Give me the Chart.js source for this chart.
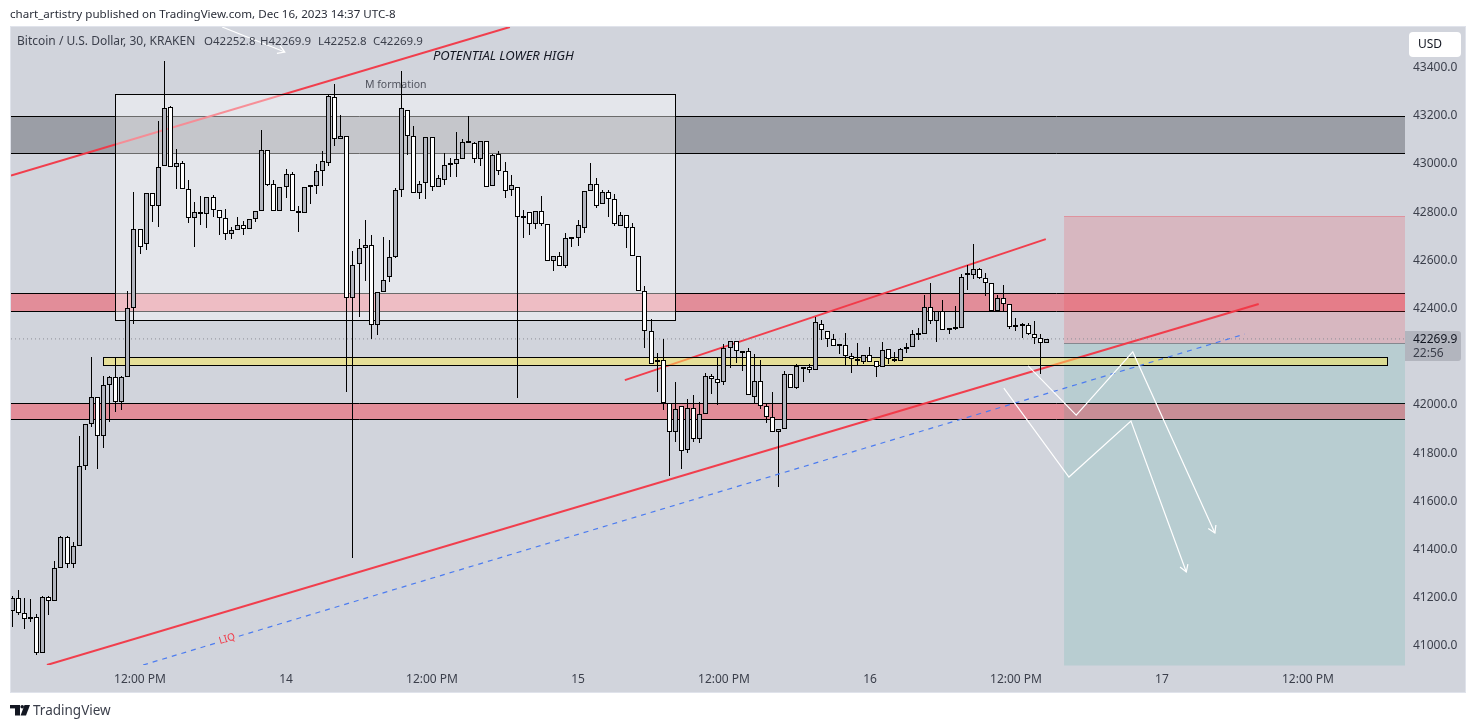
<!DOCTYPE html>
<html>
<head>
<meta charset="utf-8">
<style>html,body{margin:0;padding:0;background:#fff}canvas{display:block}</style>
<script src="https://cdn.jsdelivr.net/npm/chart.js@4"></script>
</head>
<body>
<canvas id="c" width="1475" height="728"></canvas>
<script>
const open=[
41140,41194,41132,41115,41115,40966,41198,41181,41318,41447,
41335,41410,41741,41916,42028,41866,42077,42111,42010,42111,
42397,42725,42662,42874,42820,42986,43231,42982,42998,42891,
42770,42795,42787,42857,42803,42770,42704,42720,42741,42725,
42766,42799,43052,42911,42799,42899,42953,42799,42791,42899,
42903,42965,42998,43272,43098,43110,42438,42579,42646,42658,
42326,42463,42525,42608,42886,43218,43110,42874,42915,43106,
42899,42928,42991,42994,43015,43083,43081,43015,43090,42903,
43036,42965,42886,42899,42774,42795,42745,42799,42745,42592,
42613,42571,42684,42687,42729,42882,42911,42828,42878,42849,
42737,42783,42733,42613,42467,42301,42181,42181,42003,41882,
41990,41808,41982,41853,41957,42115,42102,42090,42231,42260,
42218,42218,42028,42094,41990,41945,41882,41895,42123,42065,
42152,42152,42140,42330,42301,42268,42243,42243,42198,42185,
42173,42202,42177,42152,42227,42185,42177,42227,42235,42286,
42289,42401,42343,42384,42310,42310,42314,42535,42534,42559,
42521,42501,42384,42438,42413,42326,42326,42326,42289,42272,42252.8];
const close=[
41194,41132,41107,41107,40966,41198,41181,41318,41447,41335,
41410,41741,41916,42028,41866,42077,42111,42010,42111,42397,
42725,42650,42874,42820,42982,43227,42982,42998,42891,42770,
42795,42787,42857,42803,42770,42704,42720,42741,42725,42766,
42799,43052,42907,42799,42899,42953,42799,42791,42899,42903,
42965,43007,43276,43098,43110,42438,42575,42646,42658,42326,
42463,42513,42608,42886,43227,43110,42874,42911,43106,42899,
42936,42990,42994,43015,43085,43085,43015,43090,42899,43032,
42965,42882,42907,42774,42771,42745,42799,42745,42592,42613,
42571,42687,42687,42741,42882,42911,42820,42878,42849,42745,
42783,42729,42613,42467,42301,42165,42173,42003,41882,41978,
41804,41982,41853,41957,42115,42102,42086,42231,42260,42218,
42210,42036,42094,41990,41945,41882,41895,42123,42065,42157,
42144,42140,42339,42306,42268,42239,42241,42198,42185,42177,
42202,42173,42152,42223,42185,42177,42227,42235,42289,42289,
42401,42343,42384,42306,42307,42314,42525,42538,42559,42521,
42501,42384,42438,42413,42318,42318,42323,42289,42272,42252,42269.9];
const high=[
41203,41228,41194,41190,41127,41202,41202,41349,41452,41452,
41427,41867,41916,42195,42028,42116,42116,42196,42116,42469,
42878,42725,42874,42874,43174,43423,43235,43058,43007,42928,
42837,42862,42857,42866,42803,42808,42733,42774,42758,42766,
42799,43136,43052,42928,42899,42973,42961,42820,42899,42903,
42994,43049,43285,43326,43198,43110,42635,42683,42763,42701,
42463,42693,42679,42895,43381,43218,43152,42924,43106,43106,
42949,43040,43019,43127,43098,43193,43085,43090,43090,43036,
43048,43003,42949,42899,42803,42795,42799,42862,42745,42613,
42629,42708,42687,42762,42882,42998,42936,42886,42886,42870,
42795,42783,42749,42613,42488,42351,42210,42268,42003,42090,
41990,42019,42036,42007,42127,42123,42189,42247,42260,42260,
42218,42231,42206,42181,42003,42048,41895,42135,42123,42165,
42152,42165,42360,42347,42301,42289,42243,42293,42210,42252,
42202,42235,42177,42256,42227,42214,42231,42252,42306,42314,
42451,42501,42384,42430,42310,42405,42538,42575,42662,42563,
42542,42501,42451,42492,42413,42355,42335,42335,42343,42289,42269.9];
const low=[
41076,41124,41067,41097,40957,40966,41124,41181,41318,41321,
41321,41410,41727,41906,41730,41819,41926,41968,41976,42111,
42333,42621,42637,42756,42735,42986,42982,42893,42891,42752,
42652,42741,42731,42777,42700,42679,42683,42720,42702,42725,
42756,42799,42903,42799,42799,42853,42799,42715,42791,42831,
42872,42906,42986,43069,43098,42051,41362,42362,42511,42271,
42287,42463,42505,42604,42857,43034,42874,42849,42849,42882,
42899,42907,42940,42940,43015,43083,42998,42986,42899,42903,
42949,42853,42862,42025,42687,42702,42725,42737,42592,42550,
42571,42563,42652,42654,42708,42882,42812,42828,42777,42737,
42737,42646,42613,42467,42231,42165,42048,41974,41700,41841,
41729,41795,41841,41837,41957,42041,41997,42080,42148,42169,
42135,42036,42003,41978,41920,41882,41654,41895,42065,42061,
42092,42127,42140,42265,42235,42239,42206,42160,42130,42156,
42166,42173,42113,42152,42167,42173,42177,42210,42235,42264,
42289,42330,42256,42306,42289,42306,42314,42471,42517,42517,
42447,42384,42384,42384,42310,42301,42272,42285,42247,42123,42252.8];

const xTickValues=[21,45,69,93,117,141,165,189,213];
const xTickLabels=['12:00 PM','14','12:00 PM','15','12:00 PM','16','12:00 PM','17','12:00 PM'];
const yTickStep=200;
const xRange=[-0.21,228.95];
const yRange=[40917,43564];
const lastPrice=42269.9;

const grayBand=[43195,43041];
const redBandUpper=[42460,42386];
const redBandLower=[42004,41938];
const yellowBand=[42195,42160];
const yellowBandX=[14.9,226];
const mBoxX=[16.9,109];
const mBoxY=[43286,42350];
const positionX=[172.9,228.95];
const stopZone=[42780,42252.8];
const targetZone=[42252.8,40917];

const upperX=[-0.2,81.8], upperY=[42948,43564];
const channelX=[100.7,169.9], channelY=[42099,42684];
const supportX=[5.7,204.9], supportY=[40917,42415];
const liqX=[21.5,202.6], liqY=[40917,42290];
const arrowAX=[163,173.7,183.9,193], arrowAY=[42066,41697,41929,41303];
const arrowBX=[167,174.9,184.2,197.7], arrowBY=[42158,41954,42216,41465];
const arrowCX=[34.5,44.8], arrowCY=[43564,43460];

const zip=(xs,ys)=>xs.map((x,i)=>({x,y:ys[i]}));
const UI='"Noto Sans", sans-serif';
const BG='#d1d4dc';

function lineSet(xs,ys,color,width,order,dash){
  return {type:'line',data:zip(xs,ys),borderColor:color,borderWidth:width,pointRadius:0,tension:0,
          borderDash:dash||[],order:order,fill:false};
}
const idx=open.map((_,i)=>i);
const wickSet={type:'bar',label:'wick',data:idx.map(i=>({x:i,y:[low[i],high[i]]})),backgroundColor:'#000',
  borderWidth:0,inflateAmount:0,barThickness:1,grouped:false,order:4};
const bodySet={type:'bar',label:'body',data:idx.map(i=>({x:i,y:[Math.min(open[i],close[i]),Math.max(open[i],close[i])]})),
  backgroundColor:idx.map(i=>close[i]>=open[i]?'#b2b5be':'#ffffff'),borderColor:'#000',borderWidth:1,borderSkipped:false,
  inflateAmount:0,barThickness:5,minBarLength:2,grouped:false,order:3};

function hBand(ctx,x,y,x0,x1,p0,p1,fill,stroke){
  const l=x.getPixelForValue(x0),r=x.getPixelForValue(x1),t=Math.round(y.getPixelForValue(p0))+.5,b=Math.round(y.getPixelForValue(p1))+.5;
  ctx.fillStyle=fill;ctx.fillRect(l,t,r-l,b-t);
  if(stroke){ctx.strokeStyle=stroke;ctx.lineWidth=1;ctx.beginPath();ctx.moveTo(l,t);ctx.lineTo(r,t);ctx.moveTo(l,b);ctx.lineTo(r,b);ctx.stroke();}
}
function txt(ctx,s,x,y,font,color,align){ctx.font=font;ctx.fillStyle=color;ctx.textAlign=align||'left';ctx.textBaseline='middle';ctx.fillText(s,x,y+1);}
function head(ctx,xs,ys,chart){
  const X=chart.scales.x,Y=chart.scales.y,n=xs.length;
  const ax=X.getPixelForValue(xs[n-2]),ay=Y.getPixelForValue(ys[n-2]),bx=X.getPixelForValue(xs[n-1]),by=Y.getPixelForValue(ys[n-1]);
  const a=Math.atan2(by-ay,bx-ax),L=8;
  ctx.strokeStyle='#fff';ctx.lineWidth=1.2;ctx.beginPath();
  ctx.moveTo(bx-L*Math.cos(a-.55),by-L*Math.sin(a-.55));ctx.lineTo(bx,by);ctx.lineTo(bx-L*Math.cos(a+.55),by-L*Math.sin(a+.55));ctx.stroke();
}

const decor={
  id:'decor',
  beforeDraw(chart){
    const c=chart.ctx;
    c.save();
    c.fillStyle='#fff';c.fillRect(0,0,1475,728);
    c.fillStyle='#e0e3eb';c.fillRect(10,26,1456,667);
    c.fillStyle=BG;c.fillRect(11,27,1454,665);
    c.restore();
  },
  beforeDatasetsDraw(chart){
    const c=chart.ctx,x=chart.scales.x,y=chart.scales.y;
    c.save();
    const [a,b]=xRange;
    hBand(c,x,y,a,b,grayBand[0],grayBand[1],'#9b9ea6','#000');
    hBand(c,x,y,a,b,redBandUpper[0],redBandUpper[1],'#e28d99','#000');
    hBand(c,x,y,a,b,redBandLower[0],redBandLower[1],'#e28d99','#000');
    hBand(c,x,y,positionX[0],positionX[1],stopZone[0],stopZone[1],'rgba(242,54,69,0.18)',null);
    hBand(c,x,y,positionX[0],positionX[1],targetZone[0],targetZone[1],'rgba(8,153,129,0.12)',null);
    const l=x.getPixelForValue(positionX[0]),r=x.getPixelForValue(positionX[1]);
    c.lineWidth=1;
    c.strokeStyle='rgba(242,54,69,0.35)';c.beginPath();let t=Math.round(y.getPixelForValue(stopZone[0]))+.5;c.moveTo(l,t);c.lineTo(r,t);c.stroke();
    c.strokeStyle='#85888f';c.beginPath();t=Math.round(y.getPixelForValue(stopZone[1]))+.5;c.moveTo(l,t);c.lineTo(r,t);c.stroke();
    c.restore();
  },
  beforeDatasetDraw(chart,args){
    const ds=chart.data.datasets[args.index];
    if(ds===wickSet||ds===bodySet){
      // snap the library's computed bar geometry to whole device pixels
      for(const el of args.meta.data){
        el.x=Math.floor(el.x)+.5;
        el.y=Math.round(el.y);el.base=Math.round(el.base);
        if(ds===bodySet&&Math.abs(el.base-el.y)<2) el.base=el.y+2;
      }
    }
    if(ds!==wickSet) return;
    const c=chart.ctx,x=chart.scales.x,y=chart.scales.y;
    c.save();
    const l=Math.round(x.getPixelForValue(mBoxX[0]))+.5,r=Math.round(x.getPixelForValue(mBoxX[1]))+.5,
          t=Math.round(y.getPixelForValue(mBoxY[0]))+.5,b=Math.round(y.getPixelForValue(mBoxY[1]))+.5;
    c.fillStyle='rgba(255,255,255,0.42)';c.fillRect(l,t,r-l,b-t);
    c.strokeStyle='#000';c.lineWidth=1;c.strokeRect(l,t,r-l,b-t);
    const yl=Math.round(x.getPixelForValue(yellowBandX[0]))+.5,yr=Math.round(x.getPixelForValue(yellowBandX[1]))+.5,
          yt=Math.round(y.getPixelForValue(yellowBand[0]))+.5,yb=Math.round(y.getPixelForValue(yellowBand[1]))+.5;
    c.fillStyle='rgba(251,234,84,0.5)';c.fillRect(yl,yt,yr-yl,yb-yt);
    c.strokeStyle='#000';c.strokeRect(yl,yt,yr-yl,yb-yt);
    c.restore();
  },
  afterDatasetsDraw(chart){
    const c=chart.ctx,x=chart.scales.x,y=chart.scales.y;
    c.save();
    c.beginPath();c.rect(chart.chartArea.left,chart.chartArea.top,chart.chartArea.right-chart.chartArea.left,chart.chartArea.bottom-chart.chartArea.top);c.clip();
    head(c,arrowAX,arrowAY,chart);head(c,arrowBX,arrowBY,chart);head(c,arrowCX,arrowCY,chart);
    c.translate(x.getPixelForValue(35.3),y.getPixelForValue(41025));c.rotate(-0.29);
    c.fillStyle=BG;c.fillRect(-10,-6,20,12);
    txt(c,'LIQ',0,-1,'10px '+UI,'#f23645','center');
    c.restore();
  },
  afterDraw(chart){
    const c=chart.ctx,Y=chart.scales.y;
    c.save();
    txt(c,'chart_artistry published on TradingView.com, Dec 16, 2023 14:37 UTC-8',10,14,'11.6px '+UI,'#2a2e39');
    const hdr='#3b3f4b';
    txt(c,'Bitcoin / U.S. Dollar, 30, KRAKEN',17,41,'12px '+UI,hdr);
    txt(c,'O42252.8',204,41,'11.5px '+UI,hdr);
    txt(c,'H42269.9',260,41,'11.5px '+UI,hdr);
    txt(c,'L42252.8',318,41,'11.5px '+UI,hdr);
    txt(c,'C42269.9',373,41,'11.5px '+UI,hdr);
    txt(c,'POTENTIAL LOWER HIGH',433,55,'italic 13px '+UI,'#131722');
    txt(c,'M formation',365,84,'10.5px '+UI,'#50535e');
    // currency button
    c.fillStyle='#fff';c.beginPath();c.roundRect(1409,32,52,25,4);c.fill();
    txt(c,'USD',1418,44,'12px '+UI,'#131722');
    // last price tag
    const ty=Y.getPixelForValue(lastPrice);
    c.fillStyle='#b2b5be';c.beginPath();c.roundRect(1405,ty-8,56,30,[0,3,3,0]);c.fill();
    txt(c,'42269.9',1413,ty,'12px '+UI,'#131722');
    txt(c,'22:56',1413,ty+14,'12px '+UI,'#3b3f4b');
    // logo
    c.fillStyle='#131722';
    c.fillRect(10,705,10,3.4);c.fillRect(15,705,5,10.5);
    c.beginPath();c.arc(22.2,706.8,1.8,0,7);c.fill();
    c.beginPath();c.moveTo(24.5,705);c.lineTo(30,705);c.lineTo(26,715.5);c.lineTo(20.6,715.5);c.closePath();c.fill();
    txt(c,'TradingView',33,710,'13.5px '+UI,'#3b3f4b');
    c.restore();
  }
};

Chart.defaults.font.family=UI;
new Chart(document.getElementById('c'),{
  type:'bar',
  data:{datasets:[
    lineSet(upperX,upperY,'rgba(242,54,69,0.95)',2,8),
    lineSet(channelX,channelY,'rgba(242,54,69,0.95)',2,7),
    lineSet(supportX,supportY,'rgba(242,54,69,0.95)',2,7),
    lineSet(xRange,[lastPrice,lastPrice],'#8b8e97',1,6,[1,3]),
    wickSet,bodySet,
    lineSet(liqX,liqY,'#4c7cf0',1.2,2,[5,5]),
    lineSet(arrowAX,arrowAY,'#ffffff',1.2,1),
    lineSet(arrowBX,arrowBY,'#ffffff',1.2,1),
    lineSet(arrowCX,arrowCY,'#ffffff',1.2,1)
  ]},
  options:{
    responsive:false,animation:false,devicePixelRatio:1,
    layout:{padding:{left:11,top:27,right:10,bottom:36}},
    plugins:{legend:{display:false},tooltip:{enabled:false},title:{display:false}},
    scales:{
      x:{type:'linear',min:xRange[0],max:xRange[1],offset:false,
        grid:{display:false,drawTicks:false},border:{display:false},
        afterBuildTicks(s){s.ticks=xTickValues.map(v=>({value:v}));},
        afterFit(s){s.height=27;},
        ticks:{autoSkip:false,maxRotation:0,padding:7,color:'#3b3f4b',font:{size:12},
          callback(v){const i=xTickValues.indexOf(v);return i<0?'':xTickLabels[i];}}},
      y:{type:'linear',position:'right',min:yRange[0],max:yRange[1],
        grid:{display:false,drawTicks:false},border:{display:false},
        afterFit(s){s.width=60;},
        ticks:{stepSize:yTickStep,includeBounds:false,padding:8,labelOffset:1,color:'#3b3f4b',font:{size:12},
          callback(v){return Number(v).toFixed(1);}}}
    }
  },
  plugins:[decor]
});
</script>
</body>
</html>
